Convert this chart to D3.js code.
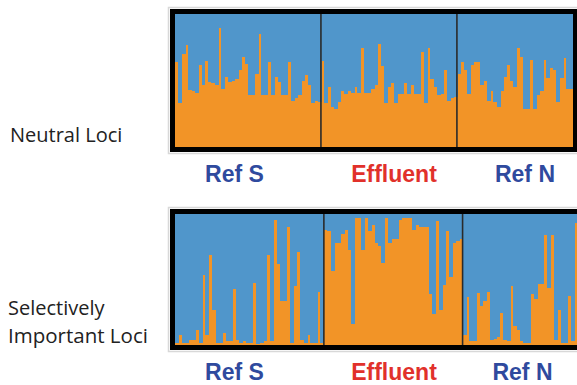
<!DOCTYPE html>
<html>
<head>
<meta charset="utf-8">
<script src="https://cdn.jsdelivr.net/npm/d3@7"></script>
<style>
  body { margin: 0; background: #fff; }
  svg { display: block; }
</style>
</head>
<body>
<div id="chart"></div>
<script>
// Groups (populations) in sample order
var groups = ['Ref S', 'Effluent', 'Ref N'];
var groupColors = ['#2f4a9e', '#e1312b', '#2f4a9e'];

// Orange (cluster 1) membership per individual, neutral loci
var neutralRefS = [0.64,0.33,0.70,0.77,0.43,0.42,0.41,0.62,0.47,0.65,0.49,0.48,0.47,0.90,0.44,0.53,0.49,0.50,0.51,0.58,0.68,0.63,
                   0.39,0.39,0.55,0.85,0.39,0.39,0.64,0.39,0.53,0.49,0.39,0.39,0.64,0.35,0.37,0.39,0.50,0.54,0.47,0.33,0.35,0.34];
var neutralEff  = [0.65,0.33,0.45,0.30,0.29,0.34,0.42,0.40,0.42,0.41,0.45,0.41,0.75,0.41,0.41,0.44,0.47,0.78,0.61,0.33,0.45,
                   0.48,0.33,0.40,0.40,0.48,0.40,0.47,0.40,0.40,0.72,0.33,0.75,0.51,0.45,0.39,0.40,0.58,0.35,0.37,0.38];
var neutralRefN = [0.55,0.64,0.58,0.40,0.62,0.64,0.64,0.47,0.50,0.35,0.42,0.34,0.30,0.42,0.53,0.62,0.50,0.45,
                   0.75,0.68,0.29,0.29,0.66,0.29,0.39,0.42,0.66,0.52,0.60,0.58,0.34,0.52,0.67,0.44,0.44];

// Orange membership per individual, selectively important loci
var selectRefS = [0.02,0.08,0.015,0.015,0.04,0.04,0.115,0.02,0.54,0.08,0.69,0.27,0.02,0.02,0.095,0.03,0.03,0.43,0.04,0.02,0.03,0.02,
                  0.02,0.475,0.01,0.02,0.03,0.69,0.03,0.96,0.62,0.34,0.34,0.90,0.02,0.45,0.71,0.04,0.02,0.08,0.02,0.02,0.41,0.02];
var selectEff  = [0.88,0.87,0.57,0.78,0.78,0.85,0.88,0.73,0.16,0.97,0.97,0.73,0.97,0.87,0.92,0.78,0.76,0.63,0.97,0.78,0.81,
                  0.81,0.96,0.97,0.97,0.97,0.88,0.92,0.90,0.90,0.90,0.39,0.24,0.95,0.27,0.46,0.87,0.52,0.78,0.80,0.81];
var selectRefN = [0.08,0.37,0.03,0.03,0.40,0.30,0.34,0.41,0.04,0.05,0.06,0.25,0.04,0.03,0.45,0.15,0.12,0.03,
                  0.02,0.02,0.39,0.35,0.47,0.47,0.84,0.44,0.84,0.04,0.27,0.02,0.02,0.38,0.03,0.93,0.90];

var blue = '#5096cb';
var orange = '#f29427';

const width = 577, height = 385;

var svg = d3.select('#chart')
  .append('svg')
  .attr('width', width)
  .attr('height', height);

// panel layout
var panels = [
  { name: 'Neutral Loci', data: [neutralRefS, neutralEff, neutralRefN],
    x0: 175, x1: 573, y0: 14, y1: 147, labelY: 182,
    labelX: [234.5, 394, 525] },
  { name: 'Selectively Important Loci', data: [selectRefS, selectEff, selectRefN],
    x0: 175, x1: 581, y0: 214, y1: 345, labelY: 380,
    labelX: [234.5, 394, 522.5] }
];

panels.forEach(function (p) {
  drawPanel(p);
});

// left labels
svg.append('text')
  .attr('x', 10).attr('y', 142)
  .attr('font-family', 'Open Sans, sans-serif')
  .attr('font-size', 20)
  .attr('fill', '#222')
  .text('Neutral Loci');

svg.append('text')
  .attr('x', 8).attr('y', 315)
  .attr('font-family', 'Open Sans, sans-serif')
  .attr('font-size', 20)
  .attr('fill', '#222')
  .text('Selectively');

svg.append('text')
  .attr('x', 8).attr('y', 343)
  .attr('font-family', 'Open Sans, sans-serif')
  .attr('font-size', 20.5)
  .attr('fill', '#222')
  .text('Important Loci');

function drawPanel(p) {
  // flatten individuals, keep group index
  var rows = [];
  p.data.forEach(function (arr, gi) {
    arr.forEach(function (v) {
      rows.push({ group: gi, orange: v, blue: 1 - v });
    });
  });
  rows.forEach(function (d, i) { d.id = i; });

  var x = d3.scaleBand()
    .domain(rows.map(d => d.id))
    .range([p.x0, p.x1])
    .padding(0);

  var y = d3.scaleLinear()
    .domain([0, 1])
    .range([p.y1, p.y0]);

  var stack = d3.stack().keys(['orange', 'blue']);
  var series = stack(rows);

  var g = svg.append('g');

  // light shadow around frame
  g.append('rect')
    .attr('x', p.x0 - 6.5)
    .attr('y', p.y0 - 6.5)
    .attr('width', p.x1 - p.x0 + 13)
    .attr('height', p.y1 - p.y0 + 13)
    .attr('fill', 'none')
    .attr('stroke', '#d8d8d8')
    .attr('stroke-width', 1.5);

  // blue background so no seams show between bars
  g.append('rect')
    .attr('x', p.x0).attr('y', p.y0)
    .attr('width', p.x1 - p.x0)
    .attr('height', p.y1 - p.y0)
    .attr('fill', blue);

  g.selectAll('g.layer')
    .data(series)
    .enter()
    .append('g')
    .attr('class', 'layer')
    .attr('fill', d => d.key == 'orange' ? orange : blue)
    .attr('shape-rendering', 'crispEdges')
    .selectAll('rect')
    .data(d => d)
    .enter()
    .append('rect')
    .attr('x', d => x(d.data.id))
    .attr('width', x.bandwidth() + 0.6)
    .attr('y', d => y(d[1]))
    .attr('height', d => y(d[0]) - y(d[1]) + 0.3);

  // separators between groups
  var bounds = [];
  for (var i = 1; i < rows.length; i++) {
    if (rows[i].group != rows[i - 1].group) bounds.push(x(rows[i].id));
  }
  g.selectAll('line.sep')
    .data(bounds)
    .enter()
    .append('line')
    .attr('x1', d => d).attr('x2', d => d)
    .attr('y1', p.y0).attr('y2', p.y1)
    .attr('stroke', '#2a2a2a')
    .attr('stroke-width', 1.6);

  // black frame
  g.append('rect')
    .attr('x', p.x0 - 2.5)
    .attr('y', p.y0 - 2.5)
    .attr('width', p.x1 - p.x0 + 5)
    .attr('height', p.y1 - p.y0 + 5)
    .attr('fill', 'none')
    .attr('stroke', '#000')
    .attr('stroke-width', 5);

  // population labels
  g.selectAll('text.pop')
    .data(groups)
    .enter()
    .append('text')
    .attr('class', 'pop')
    .attr('x', (d, i) => p.labelX[i])
    .attr('y', p.labelY)
    .attr('text-anchor', 'middle')
    .attr('font-family', 'Liberation Sans, Arial, sans-serif')
    .attr('font-weight', 'bold')
    .attr('font-size', 23)
    .attr('fill', (d, i) => groupColors[i])
    .text(d => d);
}
</script>
</body>
</html>
